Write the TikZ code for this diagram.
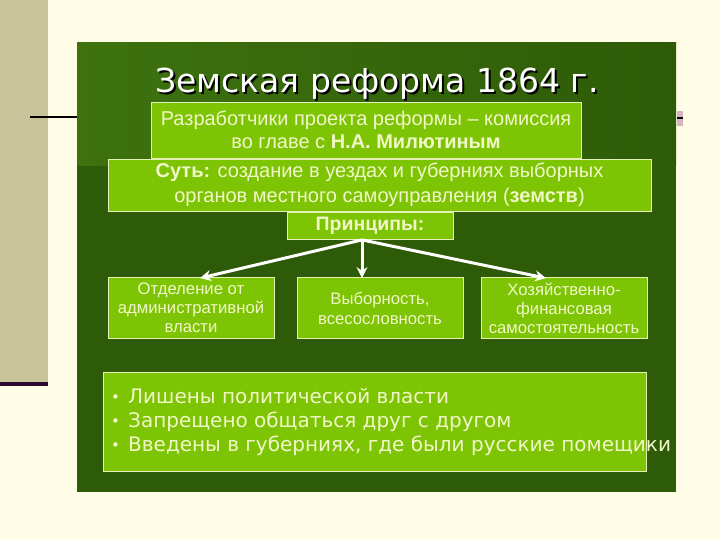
\documentclass[tikz,border=0pt]{standalone}
\usepackage{fontspec}
\setmainfont{Liberation Sans}
\newfontfamily\dvs{DejaVu Sans}
\usetikzlibrary{arrows.meta}
\definecolor{cream}{RGB}{255,253,229}
\definecolor{stripc}{RGB}{200,196,154}
\definecolor{purp}{RGB}{43,11,48}
\definecolor{paneldark}{RGB}{46,91,8}
\definecolor{panellight}{RGB}{62,114,14}
\definecolor{boxfill}{RGB}{124,196,4}
\definecolor{boxtext}{RGB}{242,247,200}
\definecolor{boxline}{RGB}{228,242,184}
\tikzset{
  gbox/.style={draw=boxline, line width=0.8pt, fill=boxfill, text=boxtext, inner sep=0pt, align=center},
  arr/.style={draw=white, line width=3pt, -{Stealth[length=11pt,width=11pt]}},
}
\newcommand{\ttltext}{Земская реформа 1864 г.}
\newcommand{\bul}{\makebox[17pt][l]{\raisebox{1pt}{\fontsize{15}{15}\selectfont•}}}
\begin{document}
\begin{tikzpicture}[x=1pt,y=-1pt]
\useasboundingbox (0,0) rectangle (720,540);
\fill[cream] (0,0) rectangle (720,540);
\fill[stripc] (0,0) rectangle (48,382);
\fill[purp] (0,382) rectangle (48,386);
\draw[black, line width=1.5pt] (30,117) -- (78,117);
\fill[black!35!purple!30] (677,111) rectangle (683,126);
\draw[black, line width=1.2pt] (677,118) -- (683,118);
% panel
\fill[paneldark] (77,43) rectangle (676,492);
\shade[left color=panellight, right color=paneldark] (77,43) rectangle (676,166);
% title
\node (title) [text=white, font=\dvs\fontsize{33}{36}\selectfont, anchor=base, inner sep=0pt] at (377,93)
  {\rlap{\kern2pt\raisebox{-2pt}{\color{black}\ttltext}}\ttltext};
% boxes
\node (b1) [gbox, minimum width=430pt, minimum height=56pt, font=\fontsize{20}{23}\selectfont] at (366,130)
  {Разработчики проекта реформы – комиссия\\во главе с \textbf{Н.А. Милютиным}};
\node (b2) [gbox, minimum width=543pt, minimum height=52pt, font=\fontsize{20}{25}\selectfont] at (379.5,185)
  {\textbf{Суть:} создание в уездах и губерниях выборных\\органов местного самоуправления (\textbf{земств})};
\node (pr) [gbox, minimum width=166pt, minimum height=27pt, font=\bfseries\fontsize{19.5}{21}\selectfont] at (370,226)
  {Принципы:};
\node (b4) [gbox, minimum width=166pt, minimum height=61pt, font=\fontsize{16.7}{19}\selectfont] at (191,308)
  {Отделение от\\административной\\власти};
\node (b5) [gbox, minimum width=166pt, minimum height=61pt, font=\fontsize{16.7}{20}\selectfont] at (380,308)
  {Выборность,\\всесословность};
\node (b6) [gbox, minimum width=166pt, minimum height=61pt, font=\fontsize{16.7}{19}\selectfont] at (564,308)
  {Хозяйственно-\\финансовая\\самостоятельность};
% arrows
\draw[arr] ([xshift=-8pt]pr.south) -- ([xshift=9pt,yshift=-1pt]b4.north);
\draw[arr] ([xshift=-8pt]pr.south) -- ([xshift=-18pt,yshift=-1pt]b5.north);
\draw[arr] ([xshift=-8pt]pr.south) -- ([xshift=-18pt,yshift=-1pt]b6.north);
% bullets box
\node (b7) [gbox, minimum width=543pt, minimum height=99pt] at (374.5,421.5) {};
\node (bl) [anchor=west, text=boxtext, inner sep=0pt, align=left, font=\dvs\fontsize{20}{24}\selectfont] at (111,422)
  {\bul Лишены политической власти\\
   \bul Запрещено общаться друг с другом\\
   \bul Введены в губерниях, где были русские помещики};
\end{tikzpicture}
\end{document}
